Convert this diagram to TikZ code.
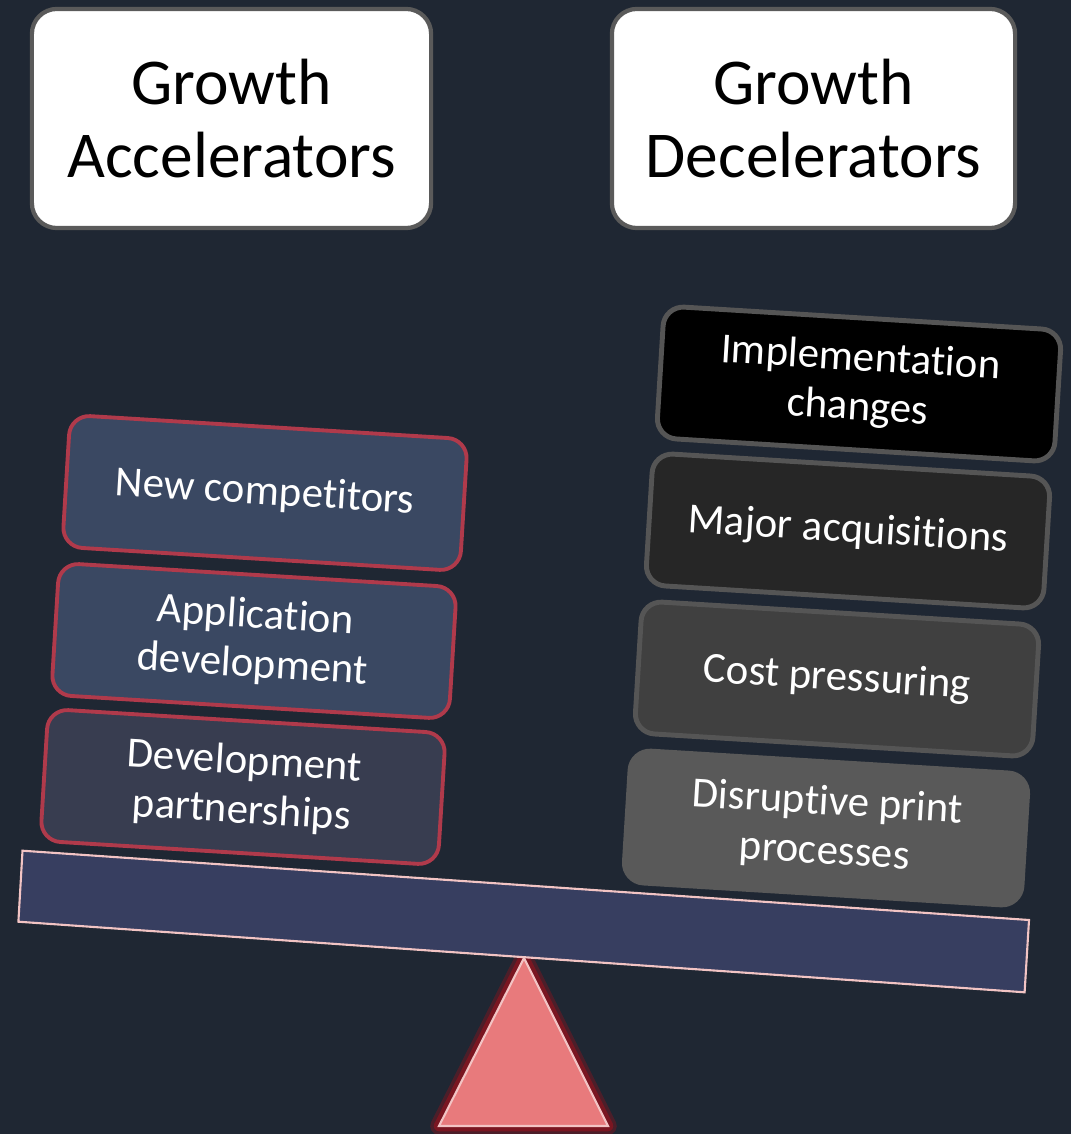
\documentclass[tikz,border=0pt]{standalone}
\usepackage{fontspec}
\setmainfont{Carlito}[Ligatures=NoCommon]
\usetikzlibrary{positioning}

\definecolor{bgnavy}{HTML}{1F2733}
\definecolor{accblue}{HTML}{3A4862}
\definecolor{accslate}{HTML}{383D50}
\definecolor{accred}{HTML}{B03A4B}
\definecolor{decgray}{HTML}{555555}
\definecolor{headgray}{HTML}{5A5A5A}
\definecolor{beamblue}{HTML}{373E60}
\definecolor{beamedge}{HTML}{F2C4C4}
\definecolor{salmon}{HTML}{E87A7C}
\definecolor{glowred}{HTML}{7A1621}

\begin{document}
\begin{tikzpicture}[x=0.01cm, y=-0.01cm,
    header/.style={draw=headgray, line width=1.2pt, fill=white, rounded corners=0.25cm,
        minimum width=3.99cm, minimum height=2.19cm, align=center, text=black,
        font=\fontsize{18.6}{20.8}\selectfont},
    accbox/.style={draw=accred, line width=1.1pt, rounded corners=0.2cm, rotate=-3.5,
        minimum width=3.98cm, minimum height=1.32cm, align=center, text=white,
        font=\fontsize{12.2}{14}\selectfont},
    decbox/.style={accbox, draw=decgray, line width=1.4pt}]

            \fill[bgnavy] (0,0) rectangle (1071,1134);
            \useasboundingbox (0,0) rectangle (1071,1134);

            \node[header] (accel) at (231.5,118.5) {Growth\\Accelerators};
            \node[header, minimum width=4.03cm] (decel) at (813.5,118.5) {Growth\\Decelerators};

            \coordinate (t1) at (524,958);
            \coordinate (t2) at (608,1126);
            \coordinate (t3) at (439,1126);

            \draw[glowred, opacity=0.5, line width=5pt, line join=round] (t1) -- (t2) -- (t3) -- cycle;
            \draw[glowred, line width=3pt, line join=round] (t1) -- (t2) -- (t3) -- cycle;
            \draw[beamedge, fill=salmon, line width=0.6pt] (t1) -- (t2) -- (t3) -- cycle;

            \coordinate (b1) at (22.5,850.7);
            \coordinate (b2) at (1029,920);
            \coordinate (b3) at (1024.6,992.3);
            \coordinate (b4) at (18.4,921.7);

            \draw[beamedge, fill=beamblue, line width=0.6pt] (b1) -- (b2) -- (b3) -- (b4) -- cycle;

            \node[accbox, fill=accblue] (newcomp) at (265,493) {New competitors};
            \node[accbox, fill=accblue] (appdev) at (254,641) {Application\\development};
            \node[accbox, fill=accslate] (devpart) at (243,787) {Development\\partnerships};

            \node[decbox, fill=black] (implchg) at (859,384) {Implementation\\changes};
            \node[decbox, fill=black!85] (majacq) at (848,531) {Major acquisitions};
            \node[decbox, fill=black!75] (costpr) at (837,679) {Cost pressuring};
            \node[decbox, fill=black!65, draw=black!65] (disrupt) at (826,828) {Disruptive print\\processes};

            \end{tikzpicture}
\end{document}
